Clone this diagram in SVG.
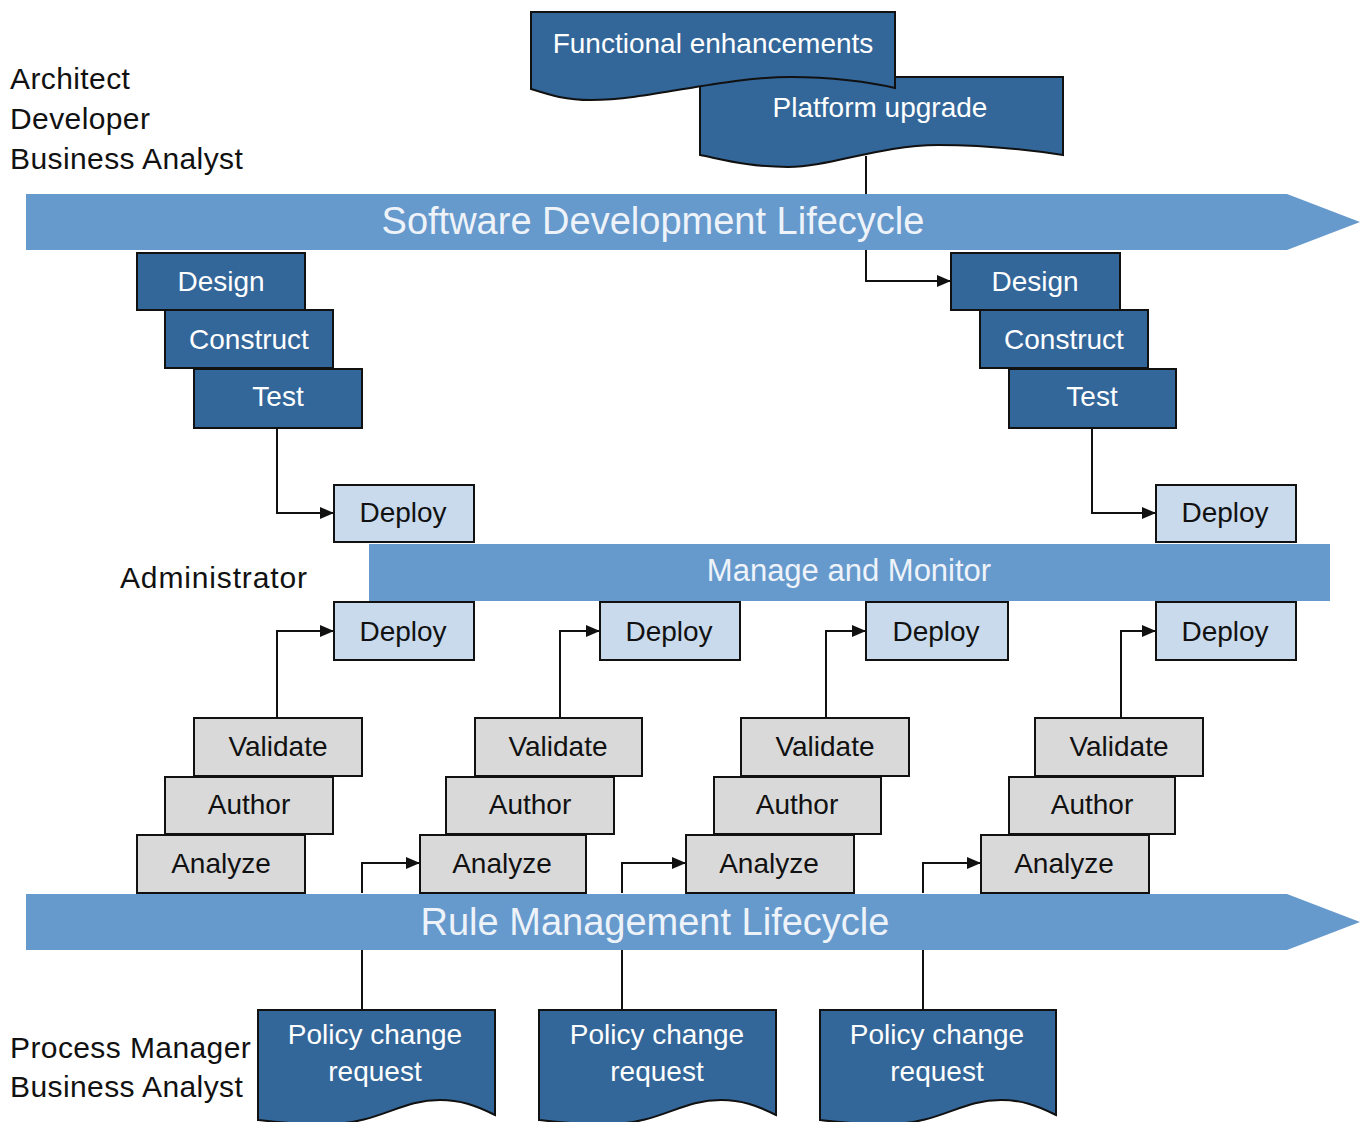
<svg xmlns="http://www.w3.org/2000/svg" width="1368" height="1122" viewBox="0 0 1368 1122">
<style>
text{font-family:"Liberation Sans",Arial,sans-serif;}
.dark{fill:#336699;stroke:#111;stroke-width:2;}
.light{fill:#C9DAEC;stroke:#111;stroke-width:2;}
.gray{fill:#D9D9D9;stroke:#111;stroke-width:2;}
.banner{fill:#6699CC;}
.wt{fill:#fff;font-size:28px;text-anchor:middle;}
.bt{fill:#111;font-size:28px;text-anchor:middle;}
.lbl{fill:#111;font-size:30px;letter-spacing:0.4px;}
.bn{fill:#EEF3FA;font-size:38px;text-anchor:middle;}
.conn{fill:none;stroke:#111;stroke-width:2;}
</style>
<defs>
<marker id="ah" viewBox="0 0 14 12" refX="14" refY="6" markerWidth="14" markerHeight="12" markerUnits="userSpaceOnUse" orient="auto"><path d="M0,0 L14,6 L0,12 Z" fill="#111"/></marker>
</defs>

<g id="labels">
<text class="lbl" x="10" y="89">Architect</text>
<text class="lbl" x="10" y="129">Developer</text>
<text class="lbl" x="10" y="169">Business Analyst</text>
<text class="lbl" x="120" y="588" style="letter-spacing:0.85px">Administrator</text>
<text class="lbl" x="10" y="1058">Process Manager</text>
<text class="lbl" x="10" y="1097">Business Analyst</text>
</g>

<g id="connectors">
<path class="conn" d="M866,156 V281 H951" marker-end="url(#ah)"/>
<path class="conn" d="M277,428 V513 H334" marker-end="url(#ah)"/>
<path class="conn" d="M1092,428 V513 H1156" marker-end="url(#ah)"/>
<path class="conn" d="M277,718 V631 H334" marker-end="url(#ah)"/>
<path class="conn" d="M560,718 V631 H600" marker-end="url(#ah)"/>
<path class="conn" d="M826,718 V631 H866" marker-end="url(#ah)"/>
<path class="conn" d="M1121,718 V631 H1156" marker-end="url(#ah)"/>
<path class="conn" d="M362,893 V863 H420" marker-end="url(#ah)"/>
<path class="conn" d="M622,893 V863 H686" marker-end="url(#ah)"/>
<path class="conn" d="M923,893 V863 H981" marker-end="url(#ah)"/>
<path class="conn" d="M362,950 V1010"/>
<path class="conn" d="M622,950 V1010"/>
<path class="conn" d="M923,950 V1010"/>
</g>

<g id="platform-upgrade">
<path class="dark" d="M700,77 H1063 V155 C1030,150 990,145 938,145 C880,145 830,167 788,167 C750,167 725,160 700,155 Z"/>
<text class="wt" x="880" y="117">Platform upgrade</text>
</g>
<g id="functional-enhancements">
<path class="dark" d="M531,12 H895 V88 C870,82 830,77 791,77 C720,77 650,100 591,100 C565,100 550,95 531,89 Z"/>
<text class="wt" x="713" y="53">Functional enhancements</text>
</g>

<g id="sdl-banner">
<path class="banner" d="M26,194 H1287 L1360,222 L1287,250 H26 Z"/>
<text class="bn" x="653" y="234">Software Development Lifecycle</text>
</g>

<g id="design-1"><rect class="dark" x="137" y="253" width="168" height="57"/><text class="wt" x="221" y="291">Design</text></g>
<g id="construct-1"><rect class="dark" x="165" y="310" width="168" height="58"/><text class="wt" x="249" y="349">Construct</text></g>
<g id="test-1"><rect class="dark" x="194" y="369" width="168" height="59"/><text class="wt" x="278" y="406">Test</text></g>

<g id="design-2"><rect class="dark" x="951" y="253" width="169" height="57"/><text class="wt" x="1035" y="291">Design</text></g>
<g id="construct-2"><rect class="dark" x="980" y="310" width="168" height="58"/><text class="wt" x="1064" y="349">Construct</text></g>
<g id="test-2"><rect class="dark" x="1009" y="369" width="167" height="59"/><text class="wt" x="1092" y="406">Test</text></g>

<g id="deploy-top-1"><rect class="light" x="334" y="485" width="140" height="57"/><text class="bt" x="403" y="522">Deploy</text></g>
<g id="deploy-top-2"><rect class="light" x="1156" y="485" width="140" height="57"/><text class="bt" x="1225" y="522">Deploy</text></g>

<g id="manage-banner">
<rect class="banner" x="369" y="544" width="961" height="57"/>
<text class="bn" style="font-size:31px" x="849" y="581">Manage and Monitor</text>
</g>

<g id="deploy-1"><rect class="light" x="334" y="602" width="140" height="58"/><text class="bt" x="403" y="641">Deploy</text></g>
<g id="deploy-2"><rect class="light" x="600" y="602" width="140" height="58"/><text class="bt" x="669" y="641">Deploy</text></g>
<g id="deploy-3"><rect class="light" x="866" y="602" width="142" height="58"/><text class="bt" x="936" y="641">Deploy</text></g>
<g id="deploy-4"><rect class="light" x="1156" y="602" width="140" height="58"/><text class="bt" x="1225" y="641">Deploy</text></g>

<g id="validate-1"><rect class="gray" x="194" y="718" width="168" height="58"/><text class="bt" x="278" y="756">Validate</text></g>
<g id="author-1"><rect class="gray" x="165" y="777" width="168" height="57"/><text class="bt" x="249" y="814">Author</text></g>
<g id="analyze-1"><rect class="gray" x="137" y="835" width="168" height="58"/><text class="bt" x="221" y="873">Analyze</text></g>

<g id="validate-2"><rect class="gray" x="475" y="718" width="167" height="58"/><text class="bt" x="558" y="756">Validate</text></g>
<g id="author-2"><rect class="gray" x="446" y="777" width="168" height="57"/><text class="bt" x="530" y="814">Author</text></g>
<g id="analyze-2"><rect class="gray" x="420" y="835" width="166" height="58"/><text class="bt" x="502" y="873">Analyze</text></g>

<g id="validate-3"><rect class="gray" x="741" y="718" width="168" height="58"/><text class="bt" x="825" y="756">Validate</text></g>
<g id="author-3"><rect class="gray" x="714" y="777" width="167" height="57"/><text class="bt" x="797" y="814">Author</text></g>
<g id="analyze-3"><rect class="gray" x="686" y="835" width="168" height="58"/><text class="bt" x="769" y="873">Analyze</text></g>

<g id="validate-4"><rect class="gray" x="1035" y="718" width="168" height="58"/><text class="bt" x="1119" y="756">Validate</text></g>
<g id="author-4"><rect class="gray" x="1009" y="777" width="166" height="57"/><text class="bt" x="1092" y="814">Author</text></g>
<g id="analyze-4"><rect class="gray" x="981" y="835" width="168" height="58"/><text class="bt" x="1064" y="873">Analyze</text></g>

<g id="rml-banner">
<path class="banner" d="M26,894 H1287 L1360,922 L1287,950 H26 Z"/>
<text class="bn" x="655" y="935">Rule Management Lifecycle</text>
</g>

<g id="policy-1">
<path class="dark" d="M258,1010 H495 V1115 C475,1105 460,1100 440,1100 C400,1100 380,1123 330,1124 C300,1125 275,1122 258,1120 Z"/>
<text class="wt" x="375" y="1044">Policy change</text><text class="wt" x="375" y="1081">request</text>
</g>
<g id="policy-2">
<path class="dark" d="M539,1010 H776 V1115 C756,1105 741,1100 721,1100 C681,1100 661,1123 611,1124 C581,1125 556,1122 539,1120 Z"/>
<text class="wt" x="657" y="1044">Policy change</text><text class="wt" x="657" y="1081">request</text>
</g>
<g id="policy-3">
<path class="dark" d="M820,1010 H1056 V1115 C1036,1105 1021,1100 1001,1100 C961,1100 941,1123 891,1124 C861,1125 837,1122 820,1120 Z"/>
<text class="wt" x="937" y="1044">Policy change</text><text class="wt" x="937" y="1081">request</text>
</g>
</svg>
